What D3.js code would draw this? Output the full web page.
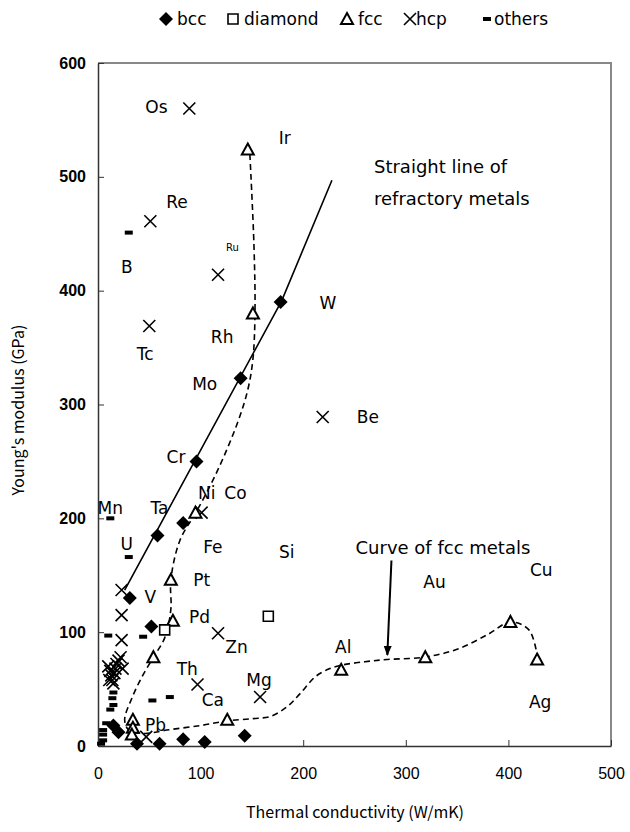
<!DOCTYPE html>
<meta charset="utf-8">
<head>
<style>
body { margin: 0; background: #fff; }
text { fill: #000; }
.lbl { font: 17px "DejaVu Sans", sans-serif; }
.ann { font: 18px "DejaVu Sans", sans-serif; }
.ytick text { font: bold 16px "Liberation Sans", Arial, sans-serif; }
.xtick text { font: 16px "Liberation Sans", Arial, sans-serif; }
.title { font: 16px "Noto Sans CJK JP", "Liberation Sans", sans-serif; }
</style>
</head>
<body>
<svg width="630" height="832"></svg>
<script src="https://d3js.org/d3.v7.min.js"></script>
<script>
// thermal conductivity (W/mK), Young's modulus (GPa)
var bcc = [[178,390],[139,323],[96,250],[58,185],[83,196],[31,130],[52,105],
  [15,18],[20,12],[38,2],[60,2],[83,6],[104,3.5],[143,9]];
var diamondStruct = [[65,102],[166,114]];
var fcc = [[146,524],[151,380],[95,205],[71,146],[73,110],[54,78],[34,23],[34,16],[33,10],
  [126,23],[237,67],[319,78],[402,109],[428,76]];
var hcp = [[89,560],[51,461],[117,414],[50,369],[219,289],[101,205],[117,99],[158,43],
  [97,54],[23,137],[23,115],[23,93],[47,8],
  [10,70],[12,66],[13,62],[14,58],[15,55],[16,64],[17,68],[18,72],[20,75],[22,78],[11,58],[24,68]];
var others = [[30,451],[12,200],[30,166],[10,97],[44,96],[53,40],[70,43],
  [15,47],[14,42],[15,36],[12,32],[5,14],[5,10],[5,5],[8,20],[3,2]];

var elementLabels = [["Os",57,561],["Ir",182,534],["Re",77,478],["B",28,421],["Rh",121,359],
  ["Tc",46,344],["Mo",104,318],["W",224,389],["Be",263,289],["Cr",76,254],["Ni",106,222],
  ["Co",134,222],["Mn",12,209],["Ta",60,209],["U",28,177],["Fe",112,175],["Pt",101,146],
  ["Si",184,170],["V",51,131],["Pd",99,113],["Zn",135,87],["Th",87,68],["Ca",112,40],
  ["Mg",157,58],["Pb",56,18],["Al",239,87],["Au",328,144],["Cu",432,155],["Ag",431,39]];
var smallLabels = [["Ru",131,438]];

// hand-drawn guide lines
var refractoryLine = [[26,137],[179,391],[228,497]];
var fccCurve = [[148,520],[152,440],[153,380],[151,340],[146,313],[136,284],[116,241],[96,206],
  [80,181],[71,146],[71,120],[65,95],[54,78],[43,61],[33,42],[26,23],[30,14],[45,11],[67,14],
  [100,18],[126,22],[150,24],[168,26],[185,35],[197,46],[212,61],[226,68],[237,71],[260,74],
  [282,76],[318,78],[350,85],[380,98],[402,109],[420,102],[428,80]];
var arrowLine = [[286,163],[282,80]];

var xTicks = [0,100,200,300,400,500];
var yTicks = [0,100,200,300,400,500,600];
var legendItems = ["bcc","diamond","fcc","hcp","others"];

var svg = d3.select("svg");
var x = d3.scaleLinear().domain([0,500]).range([98,611]);
var y = d3.scaleLinear().domain([0,600]).range([746,63]);

svg.append("defs").append("marker")
  .attr("id","arr").attr("viewBox","0 0 10 10").attr("refX",9).attr("refY",5)
  .attr("markerWidth",10).attr("markerHeight",10).attr("markerUnits","userSpaceOnUse")
  .attr("orient","auto")
  .append("path").attr("d","M0,1 L10,5 L0,9 Z").attr("fill","#000");

// frame
svg.append("path")
  .attr("d","M"+x(0)+","+y(600)+"H"+x(500)+"V"+y(0))
  .attr("fill","none").attr("stroke","#888").attr("stroke-width",2);

svg.append("g").attr("class","xtick")
  .attr("transform","translate(0,"+y(0)+")")
  .call(d3.axisBottom(x).tickValues(xTicks).tickSizeInner(-6).tickSizeOuter(0).tickPadding(22));
svg.append("g").attr("class","ytick")
  .attr("transform","translate("+x(0)+",0)")
  .call(d3.axisLeft(y).tickValues(yTicks).tickSizeInner(-6).tickSizeOuter(0).tickPadding(12));
svg.selectAll(".domain").attr("stroke","#333").attr("stroke-width",1.5);
svg.selectAll(".tick line").attr("stroke","#333");
svg.selectAll(".tick text").attr("fill","#000");

svg.append("text").attr("class","title")
  .attr("x",355).attr("y",818).attr("text-anchor","middle")
  .text("Thermal conductivity (W/mK)");
svg.append("text").attr("class","title")
  .attr("transform","translate(24,410) rotate(-90)").attr("text-anchor","middle")
  .text("Young's modulus (GPa)");

var line = d3.line().x(function(d){ return x(d[0]); }).y(function(d){ return y(d[1]); });

svg.append("path").datum(refractoryLine).attr("d",line)
  .attr("fill","none").attr("stroke","#000").attr("stroke-width",1.6);
svg.append("path").datum(fccCurve).attr("d",line.curve(d3.curveCatmullRom))
  .attr("fill","none").attr("stroke","#000").attr("stroke-width",1.6)
  .attr("stroke-dasharray","6,4");
line.curve(d3.curveLinear);
svg.append("path").datum(arrowLine).attr("d",line)
  .attr("fill","none").attr("stroke","#000").attr("stroke-width",2)
  .attr("marker-end","url(#arr)");

// marker shapes
function diamondPath(cx,cy){ return "M"+cx+","+(cy-7)+"L"+(cx+7)+","+cy+"L"+cx+","+(cy+7)+"L"+(cx-7)+","+cy+"Z"; }
function squarePath(cx,cy){ return "M"+(cx-5)+","+(cy-5)+"h10v10h-10Z"; }
function trianglePath(cx,cy){ return "M"+cx+","+(cy-6)+"L"+(cx+6)+","+(cy+5)+"L"+(cx-6)+","+(cy+5)+"Z"; }
function crossPath(cx,cy){ return "M"+(cx-6)+","+(cy-6)+"L"+(cx+6)+","+(cy+6)+"M"+(cx+6)+","+(cy-6)+"L"+(cx-6)+","+(cy+6); }
function dashPath(cx,cy){ return "M"+(cx-4)+","+(cy-2)+"h8v4h-8Z"; }

var pts = svg.append("g");
pts.selectAll(".oth").data(others).enter().append("path")
  .attr("d",function(d){ return dashPath(x(d[0]),y(d[1])); }).attr("fill","#000");
pts.selectAll(".hcp").data(hcp).enter().append("path")
  .attr("d",function(d){ return crossPath(x(d[0]),y(d[1])); })
  .attr("stroke","#000").attr("stroke-width",1.6).attr("fill","none");
pts.selectAll(".fcc").data(fcc).enter().append("path")
  .attr("d",function(d){ return trianglePath(x(d[0]),y(d[1])); })
  .attr("stroke","#000").attr("stroke-width",2).attr("fill","#fff");
pts.selectAll(".dia").data(diamondStruct).enter().append("path")
  .attr("d",function(d){ return squarePath(x(d[0]),y(d[1])); })
  .attr("stroke","#000").attr("stroke-width",1.6).attr("fill","#fff");
pts.selectAll(".bcc").data(bcc).enter().append("path")
  .attr("d",function(d){ return diamondPath(x(d[0]),y(d[1])); }).attr("fill","#000");

svg.selectAll(".el").data(elementLabels).enter().append("text").attr("class","lbl")
  .attr("x",function(d){ return x(d[1]); }).attr("y",function(d){ return y(d[2]); })
  .attr("dy","0.35em").attr("text-anchor","middle").text(function(d){ return d[0]; });
svg.selectAll(".sm").data(smallLabels).enter().append("text")
  .style("font","10px 'DejaVu Sans', sans-serif")
  .attr("x",function(d){ return x(d[1]); }).attr("y",function(d){ return y(d[2]); })
  .attr("dy","0.35em").attr("text-anchor","middle").text(function(d){ return d[0]; });

// annotations
var ann = svg.append("g").attr("class","ann");
ann.append("text").attr("x",x(269)).attr("y",y(509)).attr("dy","0.35em").text("Straight line of");
ann.append("text").attr("x",x(269)).attr("y",y(481)).attr("dy","0.35em").text("refractory metals");
ann.append("text").attr("x",x(251)).attr("y",y(174)).attr("dy","0.35em").text("Curve of fcc metals");

// legend
var legX = [166,233,347,410,487];
var legShapes = [diamondPath,squarePath,trianglePath,crossPath,dashPath];
var leg = svg.append("g");
legendItems.forEach(function(name,i){
  var p = leg.append("path").attr("d",legShapes[i](legX[i],19));
  if (i==0 || i==4) p.attr("fill","#000");
  else p.attr("fill","#fff").attr("stroke","#000").attr("stroke-width",i==2?2:1.6);
  leg.append("text").attr("class","lbl").attr("x",legX[i]+(i==3?6:i==4?7:11)).attr("y",19)
    .attr("dy","0.35em").text(name);
});
</script>
</body>
